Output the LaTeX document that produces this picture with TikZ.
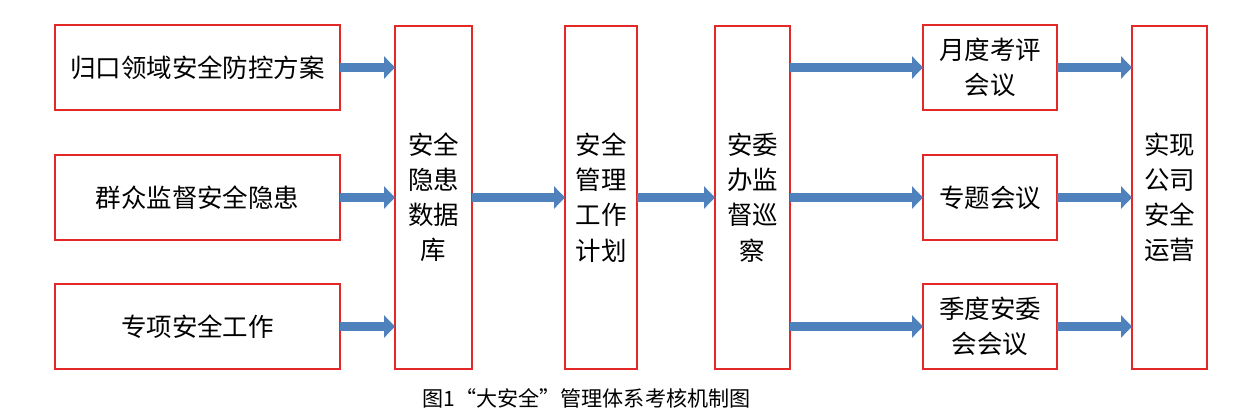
\documentclass[tikz,border=0pt]{standalone}
\usepackage{fontspec}
\setmainfont{Noto Sans CJK SC}
\usetikzlibrary{positioning,arrows.meta}
\usepackage{xcolor}
\definecolor{boxred}{RGB}{228,40,40}
\definecolor{arrowblue}{RGB}{79,129,189}

\begin{document}
\begin{tikzpicture}[
    node distance=0.88cm,
    box/.style={rectangle, draw=boxred, line width=1.1pt, align=center, inner sep=0pt, outer sep=0pt, font=\fontsize{14.5}{20}\selectfont},
    source/.style={box, minimum width=5.7cm, minimum height=1.7cm},
    meeting/.style={box, minimum width=2.68cm, minimum height=1.7cm},
    column/.style={box, minimum height=6.86cm},
    flow/.style={arrowblue, line width=0.18cm, -{Triangle[length=0.22cm, width=0.44cm]}}
]
    \useasboundingbox (0,0) rectangle (24.8,-8.34);

    % Sources
    \node[source] (l1) at (3.95,-1.35) {归口领域安全防控方案};
    \node[source, below=0.9cm of l1] (l2) {群众监督安全隐患};
    \node[source, below=0.88cm of l2] (l3) {专项安全工作};

    % Middle columns
    \node[column, minimum width=1.54cm, right=1.1cm of l2] (db) {安全\\隐患\\数据\\库};
    \node[column, minimum width=1.44cm, right=1.86cm of db] (plan) {安全\\管理\\工作\\计划};
    \node[column, minimum width=1.5cm, right=1.56cm of plan] (inspect) {安委\\办监\\督巡\\察};

    % Meetings
    \node[meeting, right=2.66cm of inspect] (m2) {专题会议};
    \node[meeting, above=0.9cm of m2] (m1) {月度考评\\会议};
    \node[meeting, below=0.88cm of m2] (m3) {季度安委\\会会议};

    % Goal
    \node[column, minimum width=1.5cm, right=1.5cm of m2] (goal) {实现\\公司\\安全\\运营};

    \node[font=\fontsize{12}{14}\selectfont] (caption) at (11.73,-7.96) {图1“大安全”管理体系考核机制图};

    % Arrows
    \draw[flow] (l1.east) -- (l1.east -| db.west);
    \draw[flow] (l2.east) -- (l2.east -| db.west);
    \draw[flow] (l3.east) -- (l3.east -| db.west);
    \draw[flow] (db.east) -- (plan.west);
    \draw[flow] (plan.east) -- (inspect.west);
    \draw[flow] (m1.west -| inspect.east) -- (m1.west);
    \draw[flow] (m2.west -| inspect.east) -- (m2.west);
    \draw[flow] (m3.west -| inspect.east) -- (m3.west);
    \draw[flow] (m1.east) -- (m1.east -| goal.west);
    \draw[flow] (m2.east) -- (m2.east -| goal.west);
    \draw[flow] (m3.east) -- (m3.east -| goal.west);
\end{tikzpicture}
\end{document}
